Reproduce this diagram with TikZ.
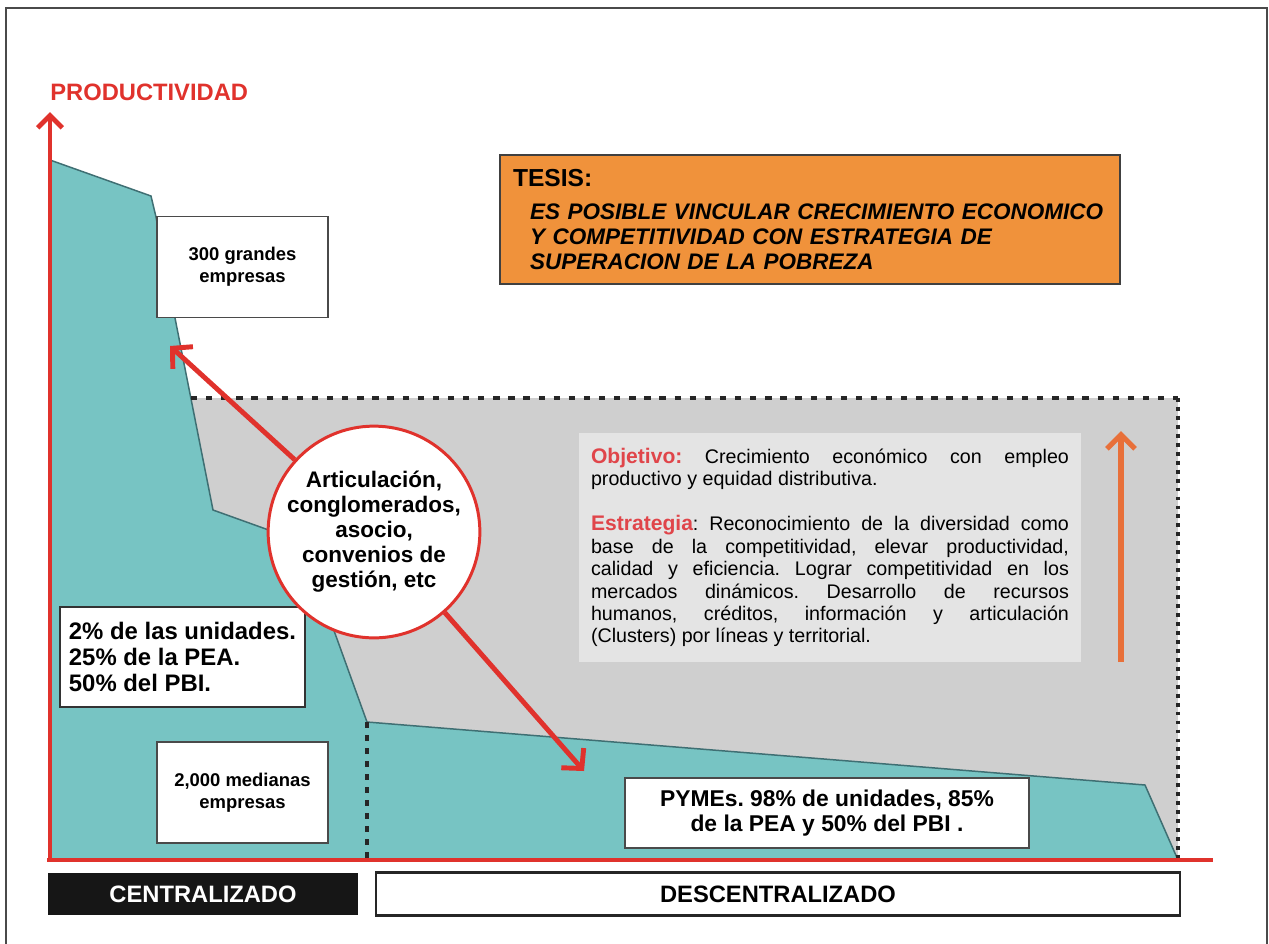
\documentclass[tikz,border=0pt]{standalone}
\usepackage{fontspec}
\setmainfont{Liberation Sans}
\usepackage{tikz}
\usetikzlibrary{arrows.meta}
\usetikzlibrary{calc}
\usepackage{xcolor}
\definecolor{myred}{HTML}{E0322C}
\definecolor{mylabelred}{HTML}{E0454A}
\definecolor{myteal}{HTML}{77C4C3}
\definecolor{mytealedge}{HTML}{3F6F73}
\definecolor{mygray}{HTML}{CFCFCF}
\definecolor{mylightgray}{HTML}{E4E4E4}
\definecolor{myorange}{HTML}{F0923B}
\definecolor{myarrow}{HTML}{E8703A}
\definecolor{myblack}{HTML}{161616}
\definecolor{myframe}{HTML}{4A4A4A}
\frenchspacing
\tikzstyle{block} = [draw=myframe, fill=white, line width=0.8pt, minimum width=3.42cm, minimum height=2.02cm, inner sep=0pt, align=center, font={\bfseries\fontsize{10.5}{12.5}\selectfont}]
\tikzstyle{ln} = [draw=myred, line width=2.8pt, -{Straight Barb[length=8pt,width=17pt]}]
\tikzstyle{axis} = [draw=myred, line width=2.8pt]
\tikzstyle{dashline} = [draw=black!85, line width=2pt, dash pattern=on 3.6pt off 5pt]

\begin{document}
\begin{tikzpicture}[x=0.02cm, y=-0.02cm]
  \useasboundingbox (0,0) rectangle (1269,944);
  \draw[myframe, line width=1.2pt] (6,944) -- (6,8) -- (1267,8) -- (1267,944);
  \fill[mygray] (191,398) rectangle (1178,860);
  \filldraw[fill=myteal, draw=mytealedge, line width=0.85pt] (50,160) -- (151,196) -- (156,217) -- (175,318) -- (213,510) -- (302,542) -- (367,722) -- (1145,785) -- (1178,860) -- (50,860) -- cycle;
  \draw[dashline] (191,398) -- (1178,398);
  \draw[dashline, dash pattern=on 2.2pt off 2.9pt] (1178,398) -- (1178,860);
  \draw[dashline, dash pattern=on 3.4pt off 4pt] (367,722) -- (367,858);
  \draw[axis] (47,860) -- (1213,860);
  \draw[axis, -{Straight Barb[length=7pt,width=14pt]}] (50,862) -- (50,112);
  \node[anchor=base west, inner sep=0pt, text=myred, font={\bfseries\fontsize{13.5}{15}\selectfont}] (productividad) at (50,100) {PRODUCTIVIDAD};
  \node[block] (grandes) at (242.5,267) {300 grandes\\empresas};
  \node[block] (medianas) at (242.5,792.5) {2,000 medianas\\empresas};
  \node[block, draw=black!80, minimum width=4.9cm, minimum height=2cm, align=left, font={\bfseries\fontsize{13.6}{15}\selectfont}] (unidades) at (182.5,657) {2\% de las unidades.\\25\% de la PEA.\\50\% del PBI.};
  \node[block, minimum width=8.08cm, minimum height=1.4cm, font={\bfseries\fontsize{13}{14.2}\selectfont}] (pymes) at (827,813) {PYMEs. 98\% de unidades, 85\%\\de la PEA y 50\% del PBI .};
  \node[circle, draw=myred, line width=1.7pt, fill=white, minimum size=3.88cm, inner sep=0pt, align=center, font={\bfseries\fontsize{12.8}{14.2}\selectfont}] (articulacion) at (374,532) {Articulación,\\conglomerados,\\asocio,\\convenios de\\gestión, etc};
  \coordinate (uptip) at (170,346);
  \coordinate (downtip) at (584,771);
  \path[ln] (articulacion) -- (uptip);
  \path[ln] (articulacion) -- (downtip);
  \node[draw=black!75, line width=1pt, fill=myorange, minimum width=12.4cm, minimum height=2.58cm, text width=11.88cm, inner xsep=0.26cm, align=left, font={\bfseries\itshape\fontsize{12.8}{14.2}\selectfont}] (tesis) at (810,219.5) {{\upshape\fontsize{14}{14.2}\selectfont TESIS:}\\[4.5pt]\hspace*{0.34cm}ES POSIBLE VINCULAR CRECIMIENTO ECONOMICO\\\hspace*{0.34cm}Y COMPETITIVIDAD CON ESTRATEGIA DE\\\hspace*{0.34cm}SUPERACION DE LA POBREZA};
  \node[fill=mylightgray, minimum width=10.04cm, minimum height=4.58cm, text width=9.56cm, inner xsep=0.24cm, align=justify, font={\fontsize{11.2}{12.75}\selectfont}] (objetivo) at (830,547.5) {{\color{mylabelred}\bfseries\fontsize{12}{12.75}\selectfont Objetivo:} Crecimiento económico con empleo\linebreak productivo y equidad distributiva.\par\vspace{13pt}{\color{mylabelred}\bfseries\fontsize{12}{12.75}\selectfont Estrategia}: Reconocimiento de la diversidad como\linebreak base de la competitividad, elevar productividad,\linebreak calidad y eficiencia. Lograr competitividad en los\linebreak mercados dinámicos. Desarrollo de recursos\linebreak humanos, créditos, información y articulación\linebreak (Clusters) por líneas y territorial.};
  \coordinate (arrowbase) at (1121,662);
  \coordinate (arrowtip) at (1121,431);
  \draw[draw=myarrow, line width=3pt, -{Straight Barb[length=8pt,width=16pt]}] (arrowbase) -- (arrowtip);
  \node[fill=myblack, text=white, minimum width=6.2cm, minimum height=0.84cm, font={\bfseries\fontsize{13.5}{15}\selectfont}] (centralizado) at (203,894) {CENTRALIZADO};
  \node[draw=black!85, line width=1.2pt, fill=white, minimum width=16.1cm, minimum height=0.86cm, font={\bfseries\fontsize{13.5}{15}\selectfont}] (descentralizado) at (778,894) {DESCENTRALIZADO};
\end{tikzpicture}
\end{document}
